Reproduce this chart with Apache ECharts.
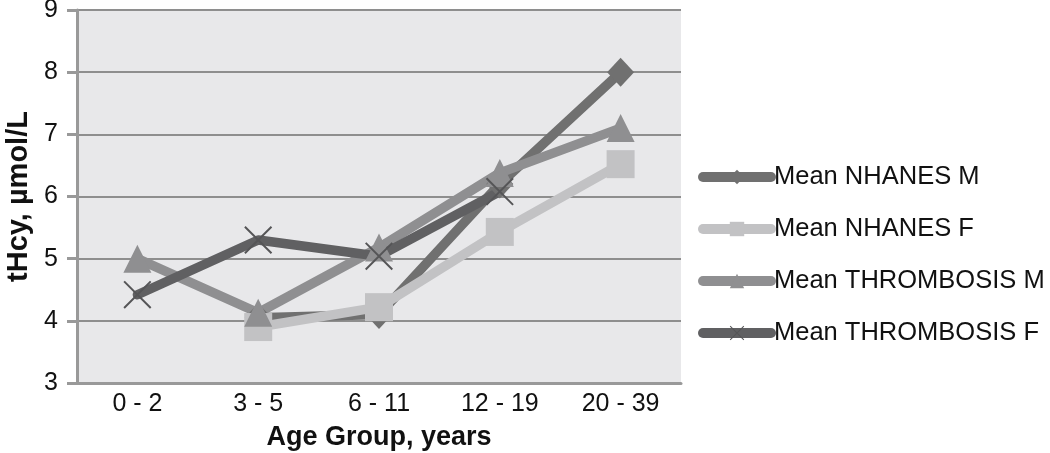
<!DOCTYPE html>
<html>
<head>
<meta charset="utf-8">
<script src="https://cdn.jsdelivr.net/npm/echarts@6/dist/echarts.min.js"></script>
<style>
    html, body { margin: 0; padding: 0; background: #fff; }
    #chart_thcy_line { width: 1050px; height: 453px; }
</style>
</head>
<body>
<div id="chart_thcy_line"></div>
<script>
// values
const ageGroups = ['0 - 2', '3 - 5', '6 - 11', '12 - 19', '20 - 39'];
const nhanesM = [null, 4.05, 4.1, 6.2, 8.0];
const nhanesF = [null, 3.9, 4.22, 5.43, 6.52];
const thrombosisM = [5.0, 4.13, 5.18, 6.38, 7.1];
const thrombosisF = [4.42, 5.3, 5.04, 6.08, null];
const yTicks = [3, 4, 5, 6, 7, 8, 9];

// thin "x" marker
const crossPath = 'path://M0,1 L1,0 L20,19 L19,20 Z M19,0 L20,1 L1,20 L0,19 Z';

let chart = echarts.init(document.getElementById('chart_thcy_line'));

function makeSeries (name, data, color, symbol, size) {
    return {
        name: name,
        type: 'line',
        data: data,
        symbol: symbol,
        symbolSize: size,
        connectNulls: false,
        lineStyle: { color: color, width: 9.5, cap: 'round', join: 'round' },
        itemStyle: { color: color },
        emphasis: { disabled: true }
    };
}

let option = {
    animation: false,
    textStyle: { fontFamily: 'Liberation Sans, Arial, sans-serif' },
    grid: {
        left: 77,
        right: 369,
        top: 10,
        bottom: 70,
        outerBoundsMode: 'none',
        containLabel: false,
        show: true,
        backgroundColor: '#e8e8ea',
        borderWidth: 0
    },
    legend: {
        orient: 'vertical',
        left: 693,
        top: 159,
        itemWidth: 68,
        itemHeight: 18,
        itemGap: 26,
        lineStyle: { width: 10, cap: 'round' },
        textStyle: { fontSize: 25.5, color: '#111', lineHeight: 26, padding: [0, 0, 0, -2] },
        data: ['Mean NHANES M', 'Mean NHANES F', 'Mean THROMBOSIS M', 'Mean THROMBOSIS F']
    },
    xAxis: {
        type: 'category',
        data: ageGroups,
        boundaryGap: true,
        name: 'Age Group, years',
        nameLocation: 'middle',
        nameGap: 41,
        nameTextStyle: { fontSize: 27, fontWeight: 'bold', color: '#111' },
        axisLine: { lineStyle: { color: '#999', width: 3 } },
        axisTick: { show: false },
        axisLabel: { fontSize: 25, color: '#111', margin: 9 },
        splitLine: { show: false }
    },
    yAxis: {
        type: 'value',
        min: yTicks[0],
        max: yTicks[yTicks.length - 1],
        interval: 1,
        name: 'tHcy, µmol/L',
        nameLocation: 'middle',
        nameGap: 43,
        nameRotate: 90,
        nameTextStyle: { fontSize: 29, fontWeight: 'bold', color: '#111' },
        axisLine: { show: true, lineStyle: { color: '#999', width: 3 } },
        axisTick: { show: true, length: 10, lineStyle: { color: '#999', width: 3 } },
        axisLabel: { fontSize: 25, color: '#111', margin: 19 },
        splitLine: { lineStyle: { color: '#8e8e8e', width: 2 } }
    },
    series: [
        makeSeries('Mean NHANES M', nhanesM, '#707070', 'diamond', [27, 29]),
        makeSeries('Mean NHANES F', nhanesF, '#c2c2c4', 'rect', 28),
        makeSeries('Mean THROMBOSIS M', thrombosisM, '#8f8f91', 'triangle', [28, 28]),
        Object.assign(makeSeries('Mean THROMBOSIS F', thrombosisF, '#606062', crossPath, 28), {
            itemStyle: { color: '#555557' }
        })
    ]
};

chart.setOption(option);
</script>
</body>
</html>
